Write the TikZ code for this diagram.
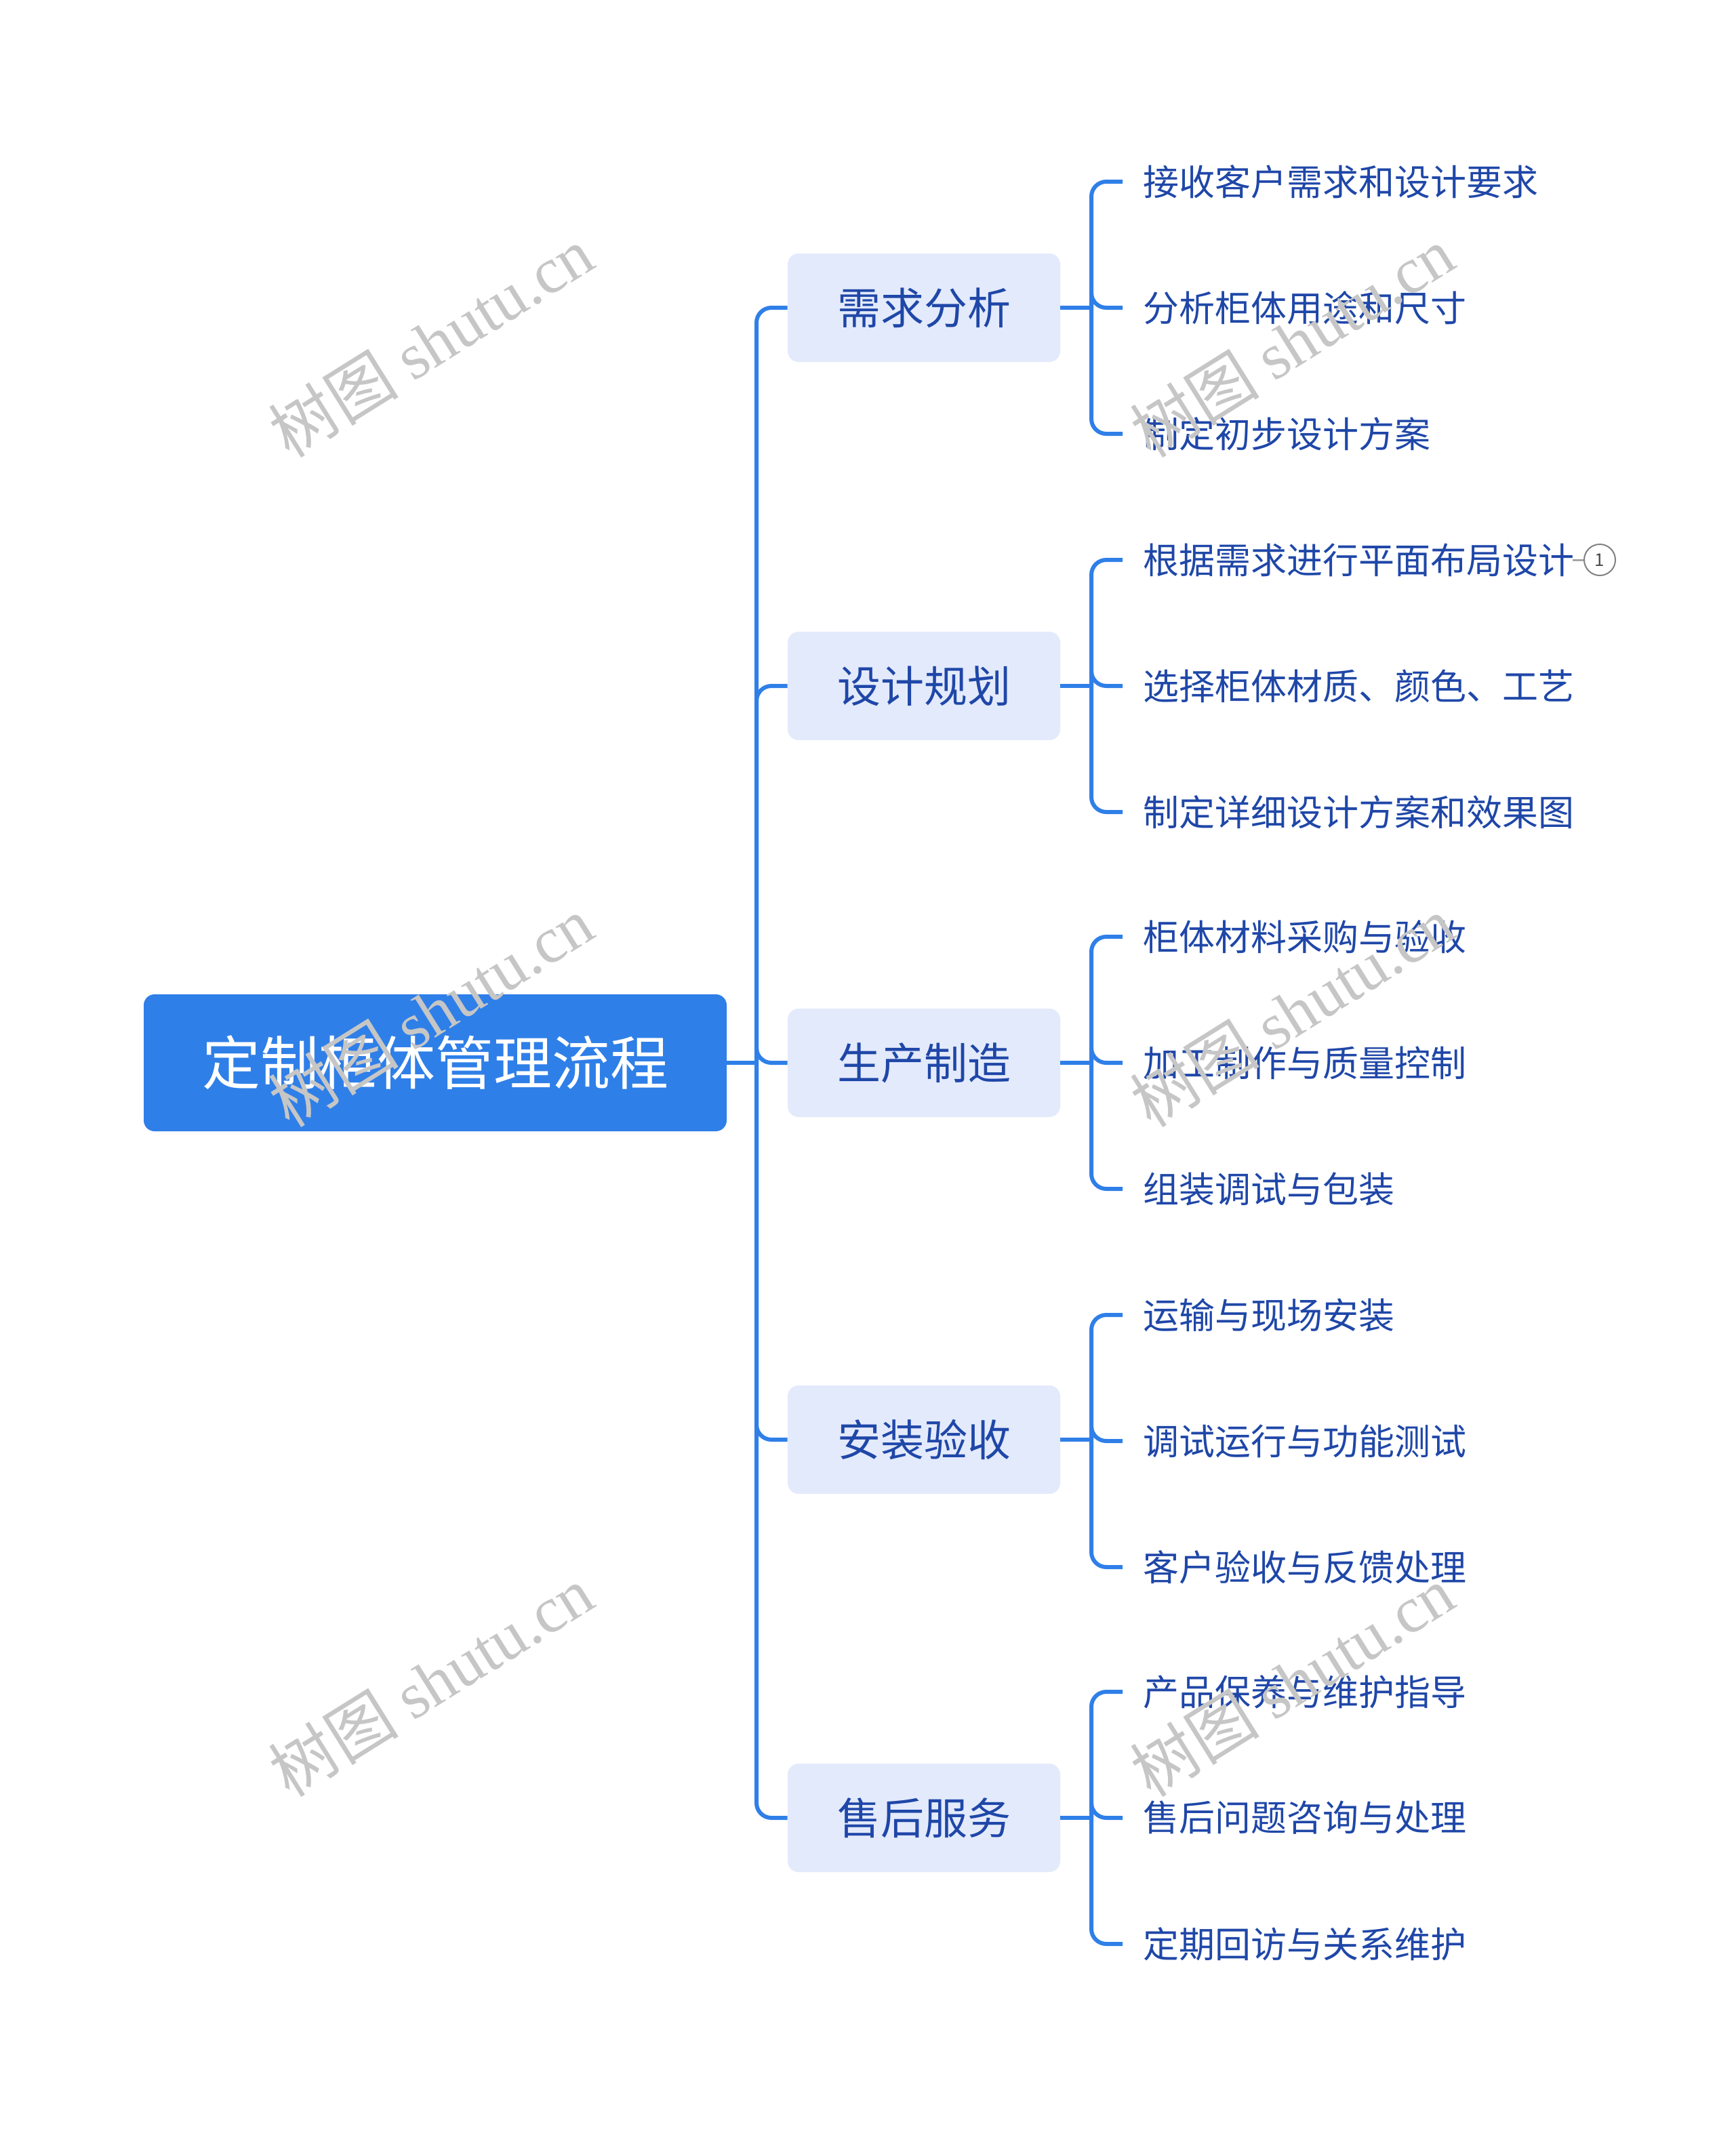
\documentclass[tikz,border=0pt]{standalone}
\usepackage{fontspec}
\setmainfont{Noto Sans CJK SC}
\newfontfamily\wmfont{Noto Sans CJK SC}
\newfontfamily\wmlat{Liberation Serif}
\usetikzlibrary{calc}
\definecolor{lineblue}{HTML}{2F7FE8}
\definecolor{rootblue}{HTML}{2F7FE8}
\definecolor{lone}{HTML}{E3EAFB}
\definecolor{ltext}{HTML}{1F47A8}
\tikzset{
 rootbox/.style={fill=rootblue,rounded corners=8pt,minimum width=430pt,minimum height=101pt,text=white,font=\fontsize{43}{43}\selectfont},
 lonebox/.style={fill=lone,rounded corners=8pt,minimum width=201pt,minimum height=80pt,text=ltext,font=\fontsize{32}{32}\selectfont},
 ltwo/.style={anchor=west,inner sep=0pt,text=ltext,font=\fontsize{26.5}{26.5}\selectfont},
 conn/.style={draw=lineblue,line width=3pt,rounded corners=11pt},
 wm/.style={text=gray!45,rotate=32,font=\fontsize{48}{48}\selectfont}
}
\begin{document}
\begin{tikzpicture}[x=1pt,y=-1pt]
\useasboundingbox (0,0) rectangle (1280,1587.5);
\node[rootbox] (root) at (321,784) {定制柜体管理流程};
\coordinate (tr) at (558,784);
\draw[conn] (root.east) -- (tr);
\foreach \n/\y/\t in {a/227/需求分析,b/506/设计规划,c/784/生产制造,d/1062/安装验收,e/1341/售后服务}{
  \node[lonebox] (\n) at (681.5,\y) {\t};
  \draw[conn] (tr) |- (\n.west);
  \coordinate (\n j) at (805,\y);
  \draw[conn] (\n.east) -- (\n j);
}
\foreach \p/\i/\y/\t in {
 a/1/134/接收客户需求和设计要求, a/2/227/分析柜体用途和尺寸, a/3/320/制定初步设计方案,
 b/1/413/根据需求进行平面布局设计, b/2/506/选择柜体材质、颜色、工艺, b/3/599/制定详细设计方案和效果图,
 c/1/691/柜体材料采购与验收, c/2/784/加工制作与质量控制, c/3/877/组装调试与包装,
 d/1/970/运输与现场安装, d/2/1063/调试运行与功能测试, d/3/1156/客户验收与反馈处理,
 e/1/1248/产品保养与维护指导, e/2/1341/售后问题咨询与处理, e/3/1434/定期回访与关系维护}{
  \node[ltwo] (\p\i) at (843,\y) {\t};
  \coordinate (\p\i e) at (828,\y);
  \draw[conn] (\p j) |- (\p\i e);
}
\node[circle,draw=gray,line width=1pt,inner sep=0pt,minimum size=23pt,text=gray!60!black,font=\fontsize{13}{13}\selectfont] (n1) at (1180,413) {1};
\draw[gray!70,line width=1.5pt] (n1.west) -- ++(-8,0);
\foreach \w/\x/\y in {w1/318/252,w2/953/252,w3/318/746,w4/953/746,w5/318/1240,w6/953/1240}{
  \node[wm] (\w) at (\x,\y) {\wmfont 树图 \wmlat shutu.cn};
}
\end{tikzpicture}
\end{document}
